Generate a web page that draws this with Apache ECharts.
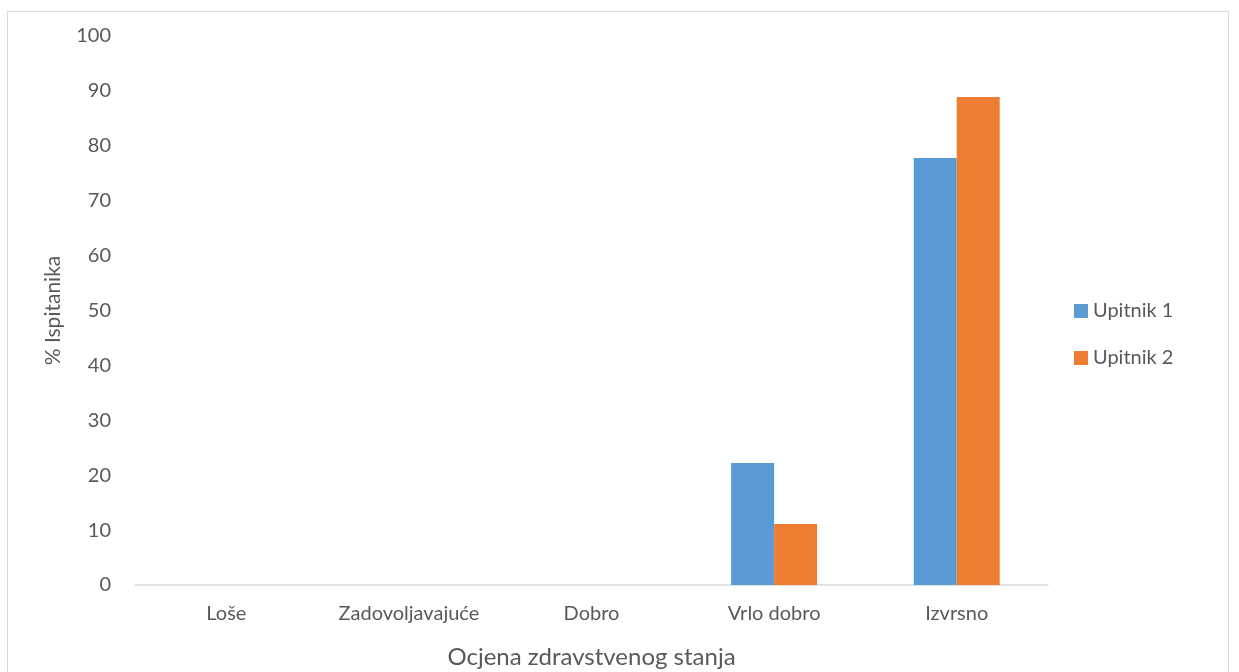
<!DOCTYPE html>
<html><head><meta charset="utf-8">
<script src="https://cdn.jsdelivr.net/npm/echarts@6/dist/echarts.min.js"></script>
<style>
html,body{margin:0;padding:0;background:#fff;overflow:hidden}
#frame{position:absolute;left:7px;top:11px;width:1222px;height:700px;border:1.5px solid #d9d9d9;box-sizing:border-box}
#c{position:absolute;left:0;top:0;width:1239px;height:672px}
</style></head><body>
<div id="frame"></div>
<div id="c"></div>
<script>
const categories = ['Loše','Zadovoljavajuće','Dobro','Vrlo dobro','Izvrsno'];
const upitnik1 = [0,0,0,22.2,77.8];
const upitnik2 = [0,0,0,11.1,88.9];
const yTicks = {min:0,max:100,interval:10};
const font = 'Lato, "Open Sans", sans-serif';
const chart = echarts.init(document.getElementById('c'));
chart.setOption({
  animation:false,
  textStyle:{fontFamily:font},
  grid:{left:135,right:191,top:36,bottom:87,outerBoundsMode:'none',containLabel:false},
  legend:{orient:'vertical',left:1069,top:296,itemWidth:14,itemHeight:14,itemGap:27,
    icon:'rect',
    textStyle:{color:'#595959',fontSize:20,fontFamily:font},
    data:['Upitnik 1','Upitnik 2']},
  xAxis:{type:'category',data:categories,
    name:'Ocjena zdravstvenog stanja',nameLocation:'middle',nameGap:60,
    nameTextStyle:{color:'#595959',fontSize:24,fontFamily:font},
    axisLine:{lineStyle:{color:'#d9d9d9',width:1.5}},axisTick:{show:false},
    axisLabel:{color:'#595959',fontSize:20,margin:19,interval:0,fontFamily:font}},
  yAxis:{type:'value',min:yTicks.min,max:yTicks.max,interval:yTicks.interval,
    name:'% Ispitanika',nameLocation:'middle',nameGap:71,
    nameTextStyle:{color:'#595959',fontSize:21,fontFamily:font},
    axisLine:{show:false},axisTick:{show:false},splitLine:{show:false},
    axisLabel:{color:'#595959',fontSize:20,margin:24,fontFamily:font}},
  series:[
    {name:'Upitnik 1',type:'bar',data:upitnik1,barWidth:43,barGap:'0%',
     itemStyle:{color:'#5b9bd5'}},
    {name:'Upitnik 2',type:'bar',data:upitnik2,barWidth:43,barGap:'0%',
     itemStyle:{color:'#ed7d31'}}
  ]
});
</script></body></html>
